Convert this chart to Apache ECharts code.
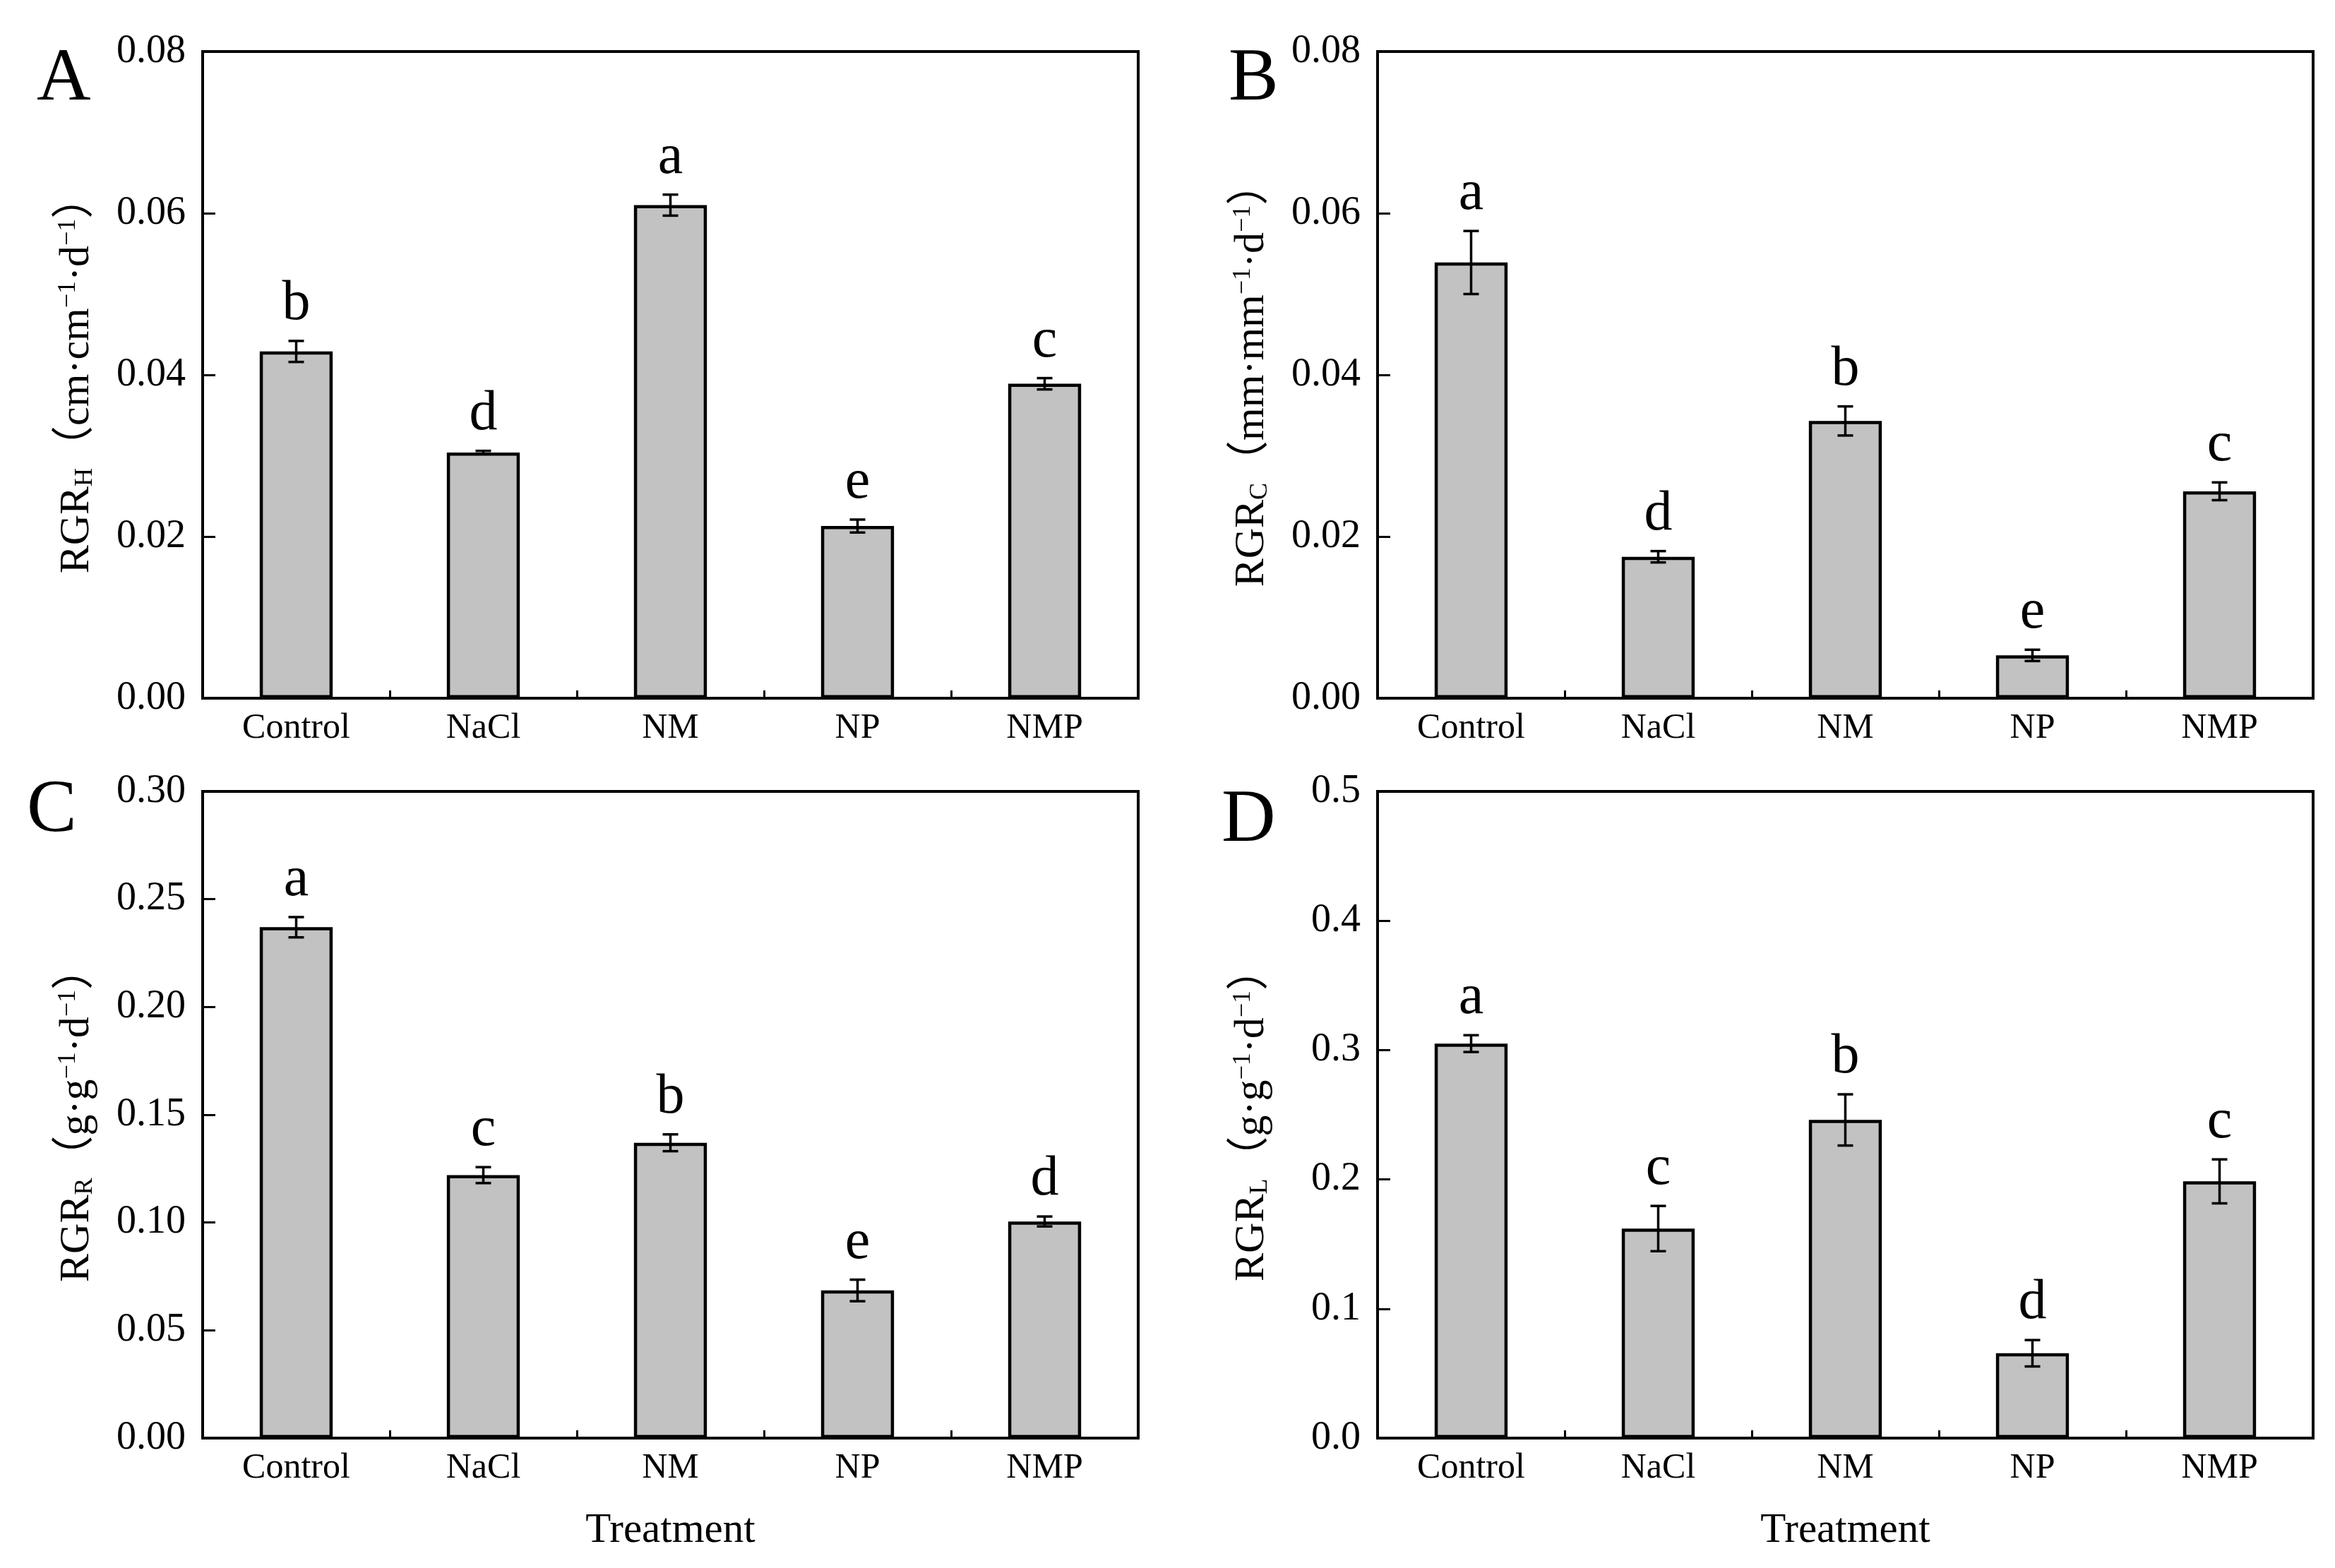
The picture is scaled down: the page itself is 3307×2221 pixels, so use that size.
<!DOCTYPE html>
<html>
<head>
<meta charset="utf-8">
<script src="https://cdn.jsdelivr.net/npm/echarts@6/dist/echarts.min.js"></script>
<style>
html,body{margin:0;padding:0;background:#fff;}
#chart{width:3307px;height:2221px;}
</style>
</head>
<body>
<div id="chart"></div>
<script>
const categories = ['Control', 'NaCl', 'NM', 'NP', 'NMP'];

const valuesA = [0.0429, 0.0304, 0.0610, 0.0213, 0.0389];
const errorsA = [0.0013, 0.0002, 0.0013, 0.0008, 0.0007];
const lettersA = ['b', 'd', 'a', 'e', 'c'];

const valuesB = [0.0539, 0.0175, 0.0343, 0.0053, 0.0256];
const errorsB = [0.0039, 0.0007, 0.0018, 0.0007, 0.0011];
const lettersB = ['a', 'd', 'b', 'e', 'c'];

const valuesC = [0.237, 0.122, 0.137, 0.0685, 0.1005];
const errorsC = [0.0047, 0.0037, 0.0039, 0.005, 0.0023];
const lettersC = ['a', 'c', 'b', 'e', 'd'];

const valuesD = [0.305, 0.162, 0.246, 0.0656, 0.1985];
const errorsD = [0.0065, 0.0175, 0.0198, 0.0102, 0.017];
const lettersD = ['a', 'c', 'b', 'd', 'c'];

const yMaxes = [0.08, 0.08, 0.30, 0.5];
const yIntervals = [0.02, 0.02, 0.05, 0.1];
const yDecimals = [2, 2, 2, 1];
const yNames = [
  '{n|RGR}{b|H}{n|（cm·cm}{p|−1}{n|·d}{p|−1}{n|）}',
  '{n|RGR}{b|C}{n|（mm·mm}{p|−1}{n|·d}{p|−1}{n|）}',
  '{n|RGR}{b|R}{n|（g·g}{p|−1}{n|·d}{p|−1}{n|）}',
  '{n|RGR}{b|L}{n|（g·g}{p|−1}{n|·d}{p|−1}{n|）}'
];
const panelLabels = ['A', 'B', 'C', 'D'];
const xName = 'Treatment';

const FONT = "'Liberation Serif', 'Noto Sans CJK SC', serif";
const panels = [
  {v: valuesA, e: errorsA, l: lettersA},
  {v: valuesB, e: errorsB, l: lettersB},
  {v: valuesC, e: errorsC, l: lettersC},
  {v: valuesD, e: errorsD, l: lettersD}
];

const gridPos = [
  {left: 287, top: 73},
  {left: 1951, top: 73},
  {left: 287, top: 1121},
  {left: 1951, top: 1121}
];

const grids = gridPos.map(p => ({
  left: p.left, top: p.top, width: 1325, height: 916,
  show: true, borderColor: '#000', borderWidth: 4, backgroundColor: 'transparent'
}));

const xAxes = gridPos.map((p, i) => ({
  type: 'category', gridIndex: i, data: categories,
  axisLine: {show: true, lineStyle: {color: '#000', width: 4}},
  axisTick: {show: true, inside: true, length: 11, lineStyle: {color: '#000', width: 3}},
  axisLabel: {color: '#000', fontFamily: FONT, fontSize: 50, margin: 18},
  splitLine: {show: false},
  name: i >= 2 ? xName : '',
  nameLocation: 'middle', nameGap: 102,
  nameTextStyle: {color: '#000', fontFamily: FONT, fontSize: 59}
}));

const yAxes = gridPos.map((p, i) => ({
  type: 'value', gridIndex: i, min: 0, max: yMaxes[i], interval: yIntervals[i],
  axisLine: {show: true, lineStyle: {color: '#000', width: 4}},
  axisTick: {show: true, inside: true, length: 18, lineStyle: {color: '#000', width: 3}},
  axisLabel: {color: '#000', fontFamily: FONT, fontSize: 56, margin: 24,
    formatter: v => v.toFixed(yDecimals[i])},
  splitLine: {show: false},
  name: yNames[i], nameLocation: 'middle', nameRotate: 90, nameGap: 148,
  nameTextStyle: {
    color: '#000', fontFamily: FONT, fontSize: 60, lineHeight: 100,
    rich: {
      n: {fontFamily: FONT, fontSize: 60, lineHeight: 60, verticalAlign: 'middle', color: '#000'},
      b: {fontFamily: FONT, fontSize: 36, lineHeight: 40, verticalAlign: 'bottom', color: '#000'},
      p: {fontFamily: FONT, fontSize: 36, lineHeight: 54, verticalAlign: 'top', color: '#000'}
    }
  }
}));

function makeErrRender(letters) {
  return function (params, api) {
    const idx = api.value(0);
    const v = api.value(1);
    const e = api.value(2);
    const top = api.coord([idx, v + e]);
    const bot = api.coord([idx, v - e]);
    const half = 11;
    const st = {stroke: '#000', lineWidth: 3.5};
    return {
      type: 'group',
      children: [
        {type: 'line', shape: {x1: top[0], y1: top[1], x2: bot[0], y2: bot[1]}, style: st},
        {type: 'line', shape: {x1: top[0] - half, y1: top[1], x2: top[0] + half, y2: top[1]}, style: st},
        {type: 'line', shape: {x1: bot[0] - half, y1: bot[1], x2: bot[0] + half, y2: bot[1]}, style: st},
        {type: 'text', x: top[0], y: top[1] - 12,
          style: {text: letters[params.dataIndex], fill: '#000', fontFamily: FONT, fontSize: 80,
            align: 'center', verticalAlign: 'bottom'}}
      ]
    };
  };
}

const series = [];
panels.forEach((p, i) => {
  series.push({
    type: 'bar', xAxisIndex: i, yAxisIndex: i, data: p.v, barWidth: '39%',
    itemStyle: {color: '#c2c2c2', borderColor: '#000', borderWidth: 4.5},
    silent: true, animation: false
  });
  series.push({
    type: 'custom', xAxisIndex: i, yAxisIndex: i,
    data: p.v.map((v, k) => [k, v, p.e[k]]),
    renderItem: makeErrRender(p.l), z: 5, silent: true, animation: false
  });
});

const titlePos = [
  {left: 52, top: 60},
  {left: 1740, top: 60},
  {left: 38, top: 1096},
  {left: 1730, top: 1110}
];
const titles = titlePos.map((p, i) => ({
  text: panelLabels[i], left: p.left, top: p.top, padding: 0,
  textStyle: {fontFamily: FONT, fontSize: 106, fontWeight: 'normal', color: '#000'}
}));

const chart = echarts.init(document.getElementById('chart'), null, {renderer: 'canvas'});
chart.setOption({
  backgroundColor: '#fff',
  animation: false,
  title: titles,
  grid: grids,
  xAxis: xAxes,
  yAxis: yAxes,
  series: series
});
</script>
</body>
</html>
